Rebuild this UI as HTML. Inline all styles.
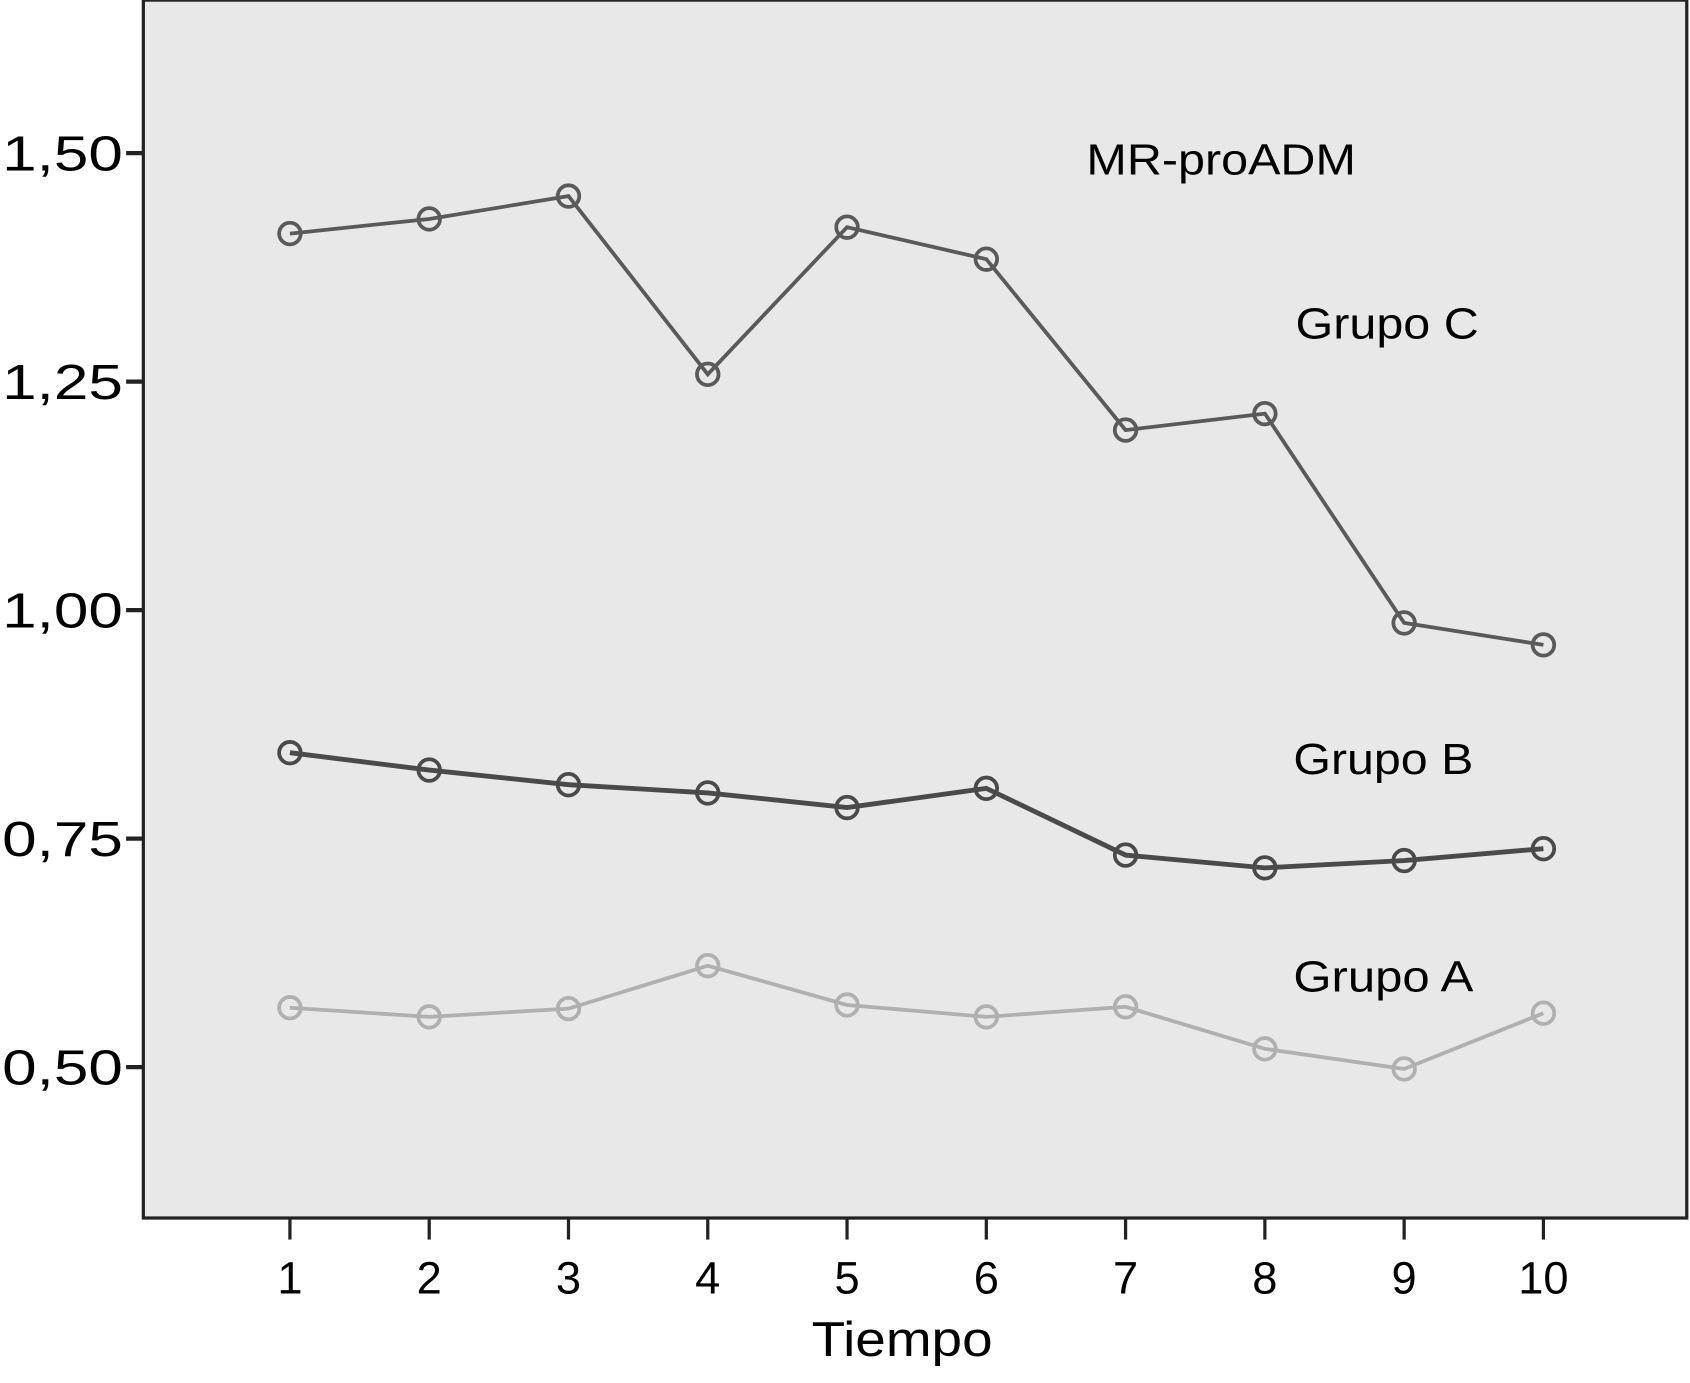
<!DOCTYPE html>
<html><head><meta charset="utf-8"><style>
html,body{margin:0;padding:0;background:#fff;}
svg{display:block;}
text{font-family:"Liberation Sans",Arial,sans-serif;fill:#000;}
</style></head><body>
<svg id="chart" width="1690" height="1383" viewBox="0 0 1568 1283" xmlns="http://www.w3.org/2000/svg">
<rect x="133" y="0" width="1432" height="1130" fill="#e8e8e8" stroke="#222" stroke-width="3"/>
<g id="axes"></g>
<g id="series"></g>
<text x="1008" y="162" font-size="40" textLength="250" lengthAdjust="spacingAndGlyphs">MR-proADM</text>
<text x="1202" y="314" font-size="40" textLength="170" lengthAdjust="spacingAndGlyphs">Grupo C</text>
<text x="1200" y="718" font-size="40" textLength="167" lengthAdjust="spacingAndGlyphs">Grupo B</text>
<text x="1200" y="920" font-size="40" textLength="167" lengthAdjust="spacingAndGlyphs">Grupo A</text>
<text x="837" y="1258" font-size="46" text-anchor="middle" textLength="168" lengthAdjust="spacingAndGlyphs">Tiempo</text>
</svg>
<script>
const categories = [1,2,3,4,5,6,7,8,9,10];
const grupoC = [1.412,1.428,1.453,1.258,1.419,1.384,1.197,1.215,0.986,0.962];
const grupoB = [0.844,0.825,0.809,0.800,0.784,0.805,0.732,0.718,0.726,0.739];
const grupoA = [0.565,0.555,0.564,0.611,0.568,0.555,0.566,0.520,0.498,0.559];
const yTicks = [0.50,0.75,1.00,1.25,1.50];
const yTickLabels = ["0,50","0,75","1,00","1,25","1,50"];

const NS = "http://www.w3.org/2000/svg";
function xS(c){ return 269 + (c-1)*(1432-269)/9; }
function yS(v){ return 142 + (1.5-v)*848; }
function mk(tag, attrs, parent){
  const e = document.createElementNS(NS, tag);
  for (const k in attrs) e.setAttribute(k, attrs[k]);
  parent.appendChild(e); return e;
}
const axes = document.getElementById('axes');
yTicks.forEach((v,i)=>{
  const t = mk('line',{x1:117,x2:133,y1:yS(v),y2:yS(v),stroke:'#222','stroke-width':4},axes);
  
  
  const l = mk('text',{x:2,y:yS(v)+16,'font-size':46,textLength:112,lengthAdjust:'spacingAndGlyphs'},axes);
  l.textContent = yTickLabels[i];
  
  
});
categories.forEach(c=>{
  const t = mk('line',{x1:xS(c),x2:xS(c),y1:1131,y2:1150,stroke:'#222','stroke-width':3},axes);
  
  
  const l = mk('text',{x:xS(c),y:1200,'font-size':42,'text-anchor':'middle'},axes);
  l.textContent = String(c);
  
  
});
const seriesG = document.getElementById('series');
function drawSeries(vals, color, width, name){
  const g = mk('g',{},seriesG);
  
  
  const pts = vals.map((v,i)=>xS(categories[i])+','+yS(v)).join(' ');
  const pl = mk('polyline',{points:pts,fill:'none',stroke:color,'stroke-width':width},g);
  
  
  vals.forEach((v,i)=>{
    const c = mk('circle',{cx:xS(categories[i]),cy:yS(v),r:10,fill:'none',stroke:color,'stroke-width':3.5},g);
    
    
  });
}
drawSeries(grupoC,'#5a5a5a',3.5,'series-grupo-c');
drawSeries(grupoB,'#4a4a4a',4.5,'series-grupo-b');
drawSeries(grupoA,'#b0b0b0',3.5,'series-grupo-a');
</script>
</body></html>
